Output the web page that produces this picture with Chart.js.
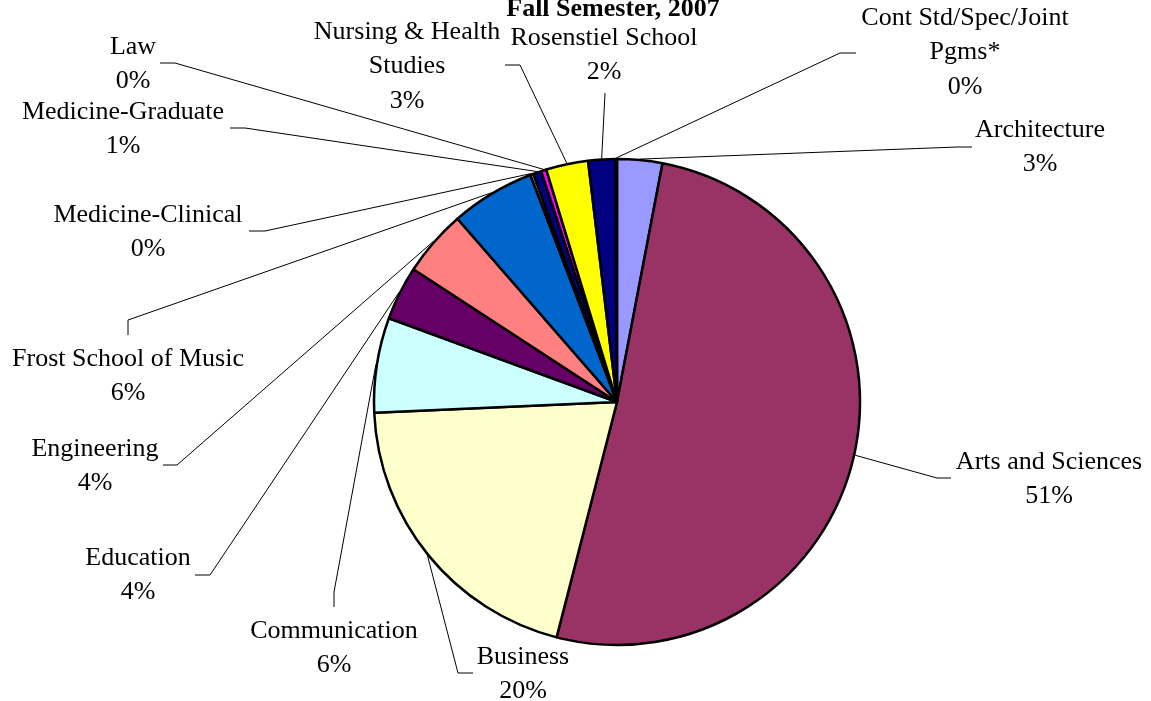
<!DOCTYPE html>
<html>
<head>
<meta charset="utf-8">
<script src="https://cdn.jsdelivr.net/npm/chart.js@4.4.1/dist/chart.umd.min.js"></script>
<style>
  html, body { margin: 0; padding: 0; background: #fff; }
  canvas { display: block; }
</style>
</head>
<body>
<canvas id="chart-enroll" width="1151" height="701"></canvas>
<script>
// ── Data (share of enrollment, %) ───────────────────────
const SCHOOLS = [
  "Architecture",
  "Arts and Sciences",
  "Business",
  "Communication",
  "Education",
  "Engineering",
  "Frost School of Music",
  "Medicine-Clinical",
  "Medicine-Graduate",
  "Law",
  "Nursing & Health\nStudies",
  "Rosenstiel School",
  "Cont Std/Spec/Joint\nPgms*"
];
const SHARE = [3.0, 51.0, 20.3, 6.3, 3.6, 4.4, 5.6, 0.2, 0.55, 0.35, 2.8, 1.8, 0.1];

const SLICE_COLORS = [
  "#9999FF", "#993366", "#FFFFCC", "#CCFFFF", "#660066", "#FF8080", "#0066CC",
  "#CCCCFF", "#000080", "#FF00FF", "#FFFF00", "#000080", "#00FFFF"
];

const TITLE = "Fall Semester, 2007";

// ── Label placement (first line centre, elbow, tip of leader line) ──
const LABEL_LAYOUT = [
  { x: 1040, y: 130, elbow: [957, 147], tip: [972, 147] },
  { x: 1049, y: 462, elbow: [937, 478], tip: [951, 478] },
  { x: 523,  y: 657, elbow: [458, 673], tip: [473, 673] },
  { x: 334,  y: 631, elbow: [334, 592], tip: [334, 607] },
  { x: 138,  y: 558, elbow: [210, 575], tip: [195, 575] },
  { x: 95,   y: 449, elbow: [177, 465], tip: [163, 465] },
  { x: 128,  y: 359, elbow: [128, 320], tip: [128, 335] },
  { x: 148,  y: 215, elbow: [265, 231], tip: [249, 231] },
  { x: 123,  y: 112, elbow: [245, 128], tip: [230, 128] },
  { x: 133,  y: 47,  elbow: [175, 63],  tip: [160, 63] },
  { x: 407,  y: 32,  elbow: [520, 65],  tip: [505, 65] },
  { x: 604,  y: 38,  elbow: [605, 93],  tip: [605, 93] },
  { x: 965,  y: 18,  elbow: [840, 53],  tip: [856, 53] }
];
const LINE_GAP = 34.5;
const FONT = "26px 'Liberation Serif', 'Times New Roman', serif";

// ── Leader lines + labels plugin ────────────────────────
const leaderLabels = {
  id: "leaderLabels",
  afterDatasetsDraw(chart) {
    const { ctx } = chart;
    const arcs = chart.getDatasetMeta(0).data;
    ctx.save();
    ctx.strokeStyle = "#000";
    ctx.lineWidth = 1;
    arcs.forEach((arc, i) => {
      const p = arc.getProps(["x", "y", "startAngle", "endAngle", "outerRadius"], true);
      const mid = (p.startAngle + p.endAngle) / 2;
      const r = p.outerRadius + 1;
      const L = LABEL_LAYOUT[i];
      ctx.beginPath();
      ctx.moveTo(p.x + Math.cos(mid) * r, p.y + Math.sin(mid) * r);
      ctx.lineTo(L.elbow[0], L.elbow[1]);
      ctx.lineTo(L.tip[0], L.tip[1]);
      ctx.stroke();
    });
    ctx.restore();
  },
  afterDraw(chart) {
    const { ctx } = chart;
    const total = SHARE.reduce((a, b) => a + b, 0);
    ctx.save();
    ctx.fillStyle = "#000";
    ctx.textAlign = "center";
    ctx.textBaseline = "middle";
    ctx.font = FONT;
    SCHOOLS.forEach((name, i) => {
      const lines = name.split("\n");
      lines.push(Math.round(SHARE[i] / total * 100) + "%");
      const L = LABEL_LAYOUT[i];
      lines.forEach((t, k) => ctx.fillText(t, L.x, L.y + k * LINE_GAP));
    });
    // title, partly cut off by the top edge
    ctx.font = "bold " + FONT;
    ctx.textBaseline = "alphabetic";
    ctx.fillText(TITLE, 613, 16);
    ctx.restore();
  }
};

new Chart(document.getElementById("chart-enroll"), {
  type: "pie",
  data: {
    labels: SCHOOLS,
    datasets: [{
      data: SHARE,
      backgroundColor: SLICE_COLORS,
      borderColor: "#000",
      borderWidth: 2.5
    }]
  },
  plugins: [leaderLabels],
  options: {
    responsive: false,
    animation: false,
    radius: 243,
    layout: { padding: { left: 83, top: 103, right: 0, bottom: 0 } },
    plugins: {
      legend: { display: false },
      tooltip: { enabled: false },
      title: { display: false }
    }
  }
});
</script>
</body>
</html>
